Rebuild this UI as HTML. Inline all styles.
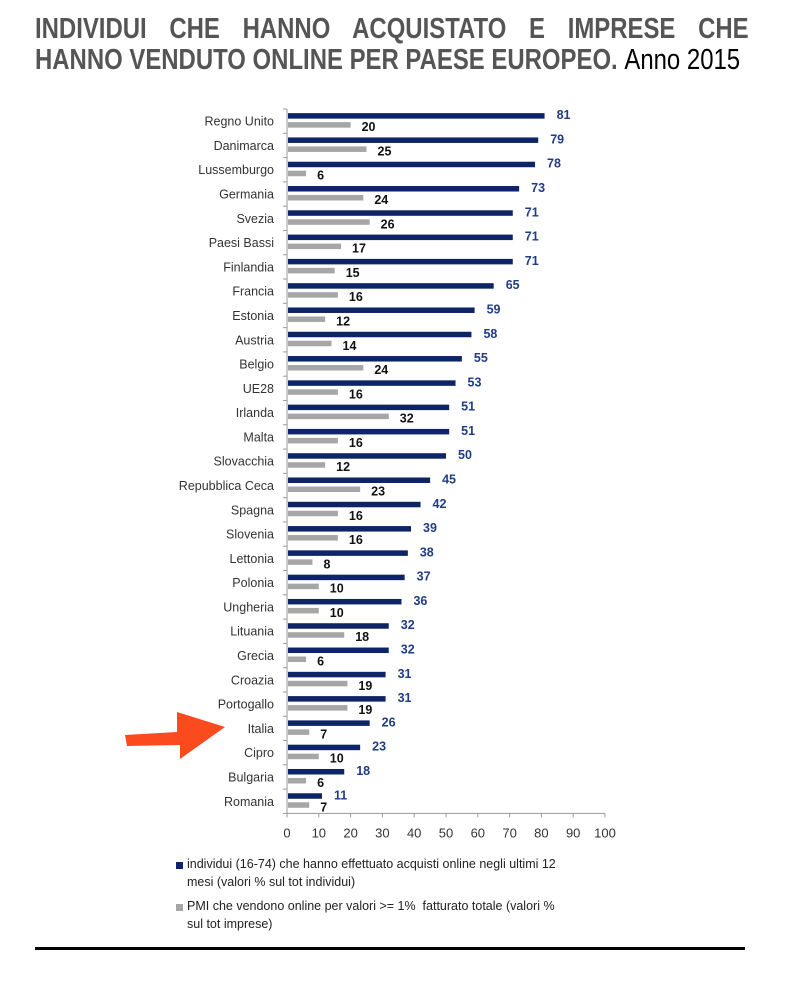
<!DOCTYPE html>
<html><head><meta charset="utf-8"><style>
body{margin:0;background:#fff;width:790px;height:988px;overflow:hidden;position:relative;font-family:"Liberation Sans",sans-serif}
.t{position:absolute;left:35px;width:865px;font-weight:bold;font-size:29px;color:#555;white-space:nowrap;line-height:30px;transform:scaleX(0.825);transform-origin:0 0}
#t1{top:14px;text-align:justify;text-align-last:justify}
#t2{top:45px}
#t2 span{font-weight:normal;color:#000}
.leg{position:absolute;left:187px;font-size:12.5px;color:#222;line-height:18px}
.sq{position:absolute;left:176px;width:7px;height:7px}
</style></head><body>
<div class="t" id="t1">INDIVIDUI CHE HANNO ACQUISTATO E IMPRESE CHE</div>
<div class="t" id="t2">HANNO VENDUTO ONLINE PER PAESE EUROPEO. <span>Anno 2015</span></div>
<svg id="chart" width="790" height="988" style="position:absolute;left:0;top:0"></svg>
<div class="sq" style="top:862px;background:#0d2567"></div>
<div class="leg" style="top:855px">individui (16-74) che hanno effettuato acquisti online negli ultimi 12<br>mesi (valori % sul tot individui)</div>
<div class="sq" style="top:904px;background:#a6a6a6"></div>
<div class="leg" style="top:897px">PMI che vendono online per valori &gt;= 1%&nbsp; fatturato totale (valori %<br>sul tot imprese)</div>
<div style="position:absolute;left:35px;top:947px;width:710px;height:3px;background:#000"></div>
<script>
const categories=["Regno Unito","Danimarca","Lussemburgo","Germania","Svezia","Paesi Bassi","Finlandia","Francia","Estonia","Austria","Belgio","UE28","Irlanda","Malta","Slovacchia","Repubblica Ceca","Spagna","Slovenia","Lettonia","Polonia","Ungheria","Lituania","Grecia","Croazia","Portogallo","Italia","Cipro","Bulgaria","Romania"];
const individui=[81,79,78,73,71,71,71,65,59,58,55,53,51,51,50,45,42,39,38,37,36,32,32,31,31,26,23,18,11];
const pmi=[20,25,6,24,26,17,15,16,12,14,24,16,32,16,12,23,16,16,8,10,10,18,6,19,19,7,10,6,7];
const ticks=[0,10,20,30,40,50,60,70,80,90,100];
const NS="http://www.w3.org/2000/svg";
const svg=document.getElementById('chart');
const x0=287,sc=3.18,y0=109,step=24.29;
const X=v=>x0+v*sc;
const Y=i=>y0+i*step;
function el(t,a,txt){const e=document.createElementNS(NS,t);for(const k in a)e.setAttribute(k,a[k]);if(txt!=null)e.textContent=txt;svg.appendChild(e);return e;}
let ax=el('line',{x1:x0,y1:y0,x2:x0,y2:Y(categories.length),stroke:'#999'});


let bx=el('line',{x1:x0,y1:Y(categories.length),x2:X(100),y2:Y(categories.length),stroke:'#999'});


for(let i=0;i<=categories.length;i++){el('line',{x1:x0-4,y1:Y(i),x2:x0,y2:Y(i),stroke:'#999'});}
ticks.forEach(t=>{
 el('line',{x1:X(t),y1:Y(categories.length),x2:X(t),y2:Y(categories.length)+4,stroke:'#999'});
 const tl=el('text',{x:X(t),y:Y(categories.length)+24,'font-size':13,fill:'#333','text-anchor':'middle'},t);
 
 
});
categories.forEach((c,i)=>{
 const yc=Y(i)+step/2;
 const lb=el('text',{x:274,y:yc+4.5,'font-size':12.5,fill:'#333','text-anchor':'end'},c);
 
 
 const b1=el('rect',{x:x0+1,y:yc-8,width:X(individui[i])-x0-1,height:5.5,fill:'#0d2567'});
 
 
 const b2=el('rect',{x:x0+1,y:yc+1,width:X(pmi[i])-x0-1,height:5.5,fill:'#a6a6a6'});
 
 
 const v1=el('text',{x:X(individui[i])+12,y:yc-2,'font-size':12.5,'font-weight':'bold',fill:'#1f3d86'},individui[i]);
 
 
 const v2=el('text',{x:X(pmi[i])+11,y:yc+10,'font-size':12.5,'font-weight':'bold',fill:'#111'},pmi[i]);
 
 
});
const ar=el('polygon',{points:'125,735 177,732 177,712 225,727 180,759 180,745 127,746',fill:'#fb4a1d'});


</script>
</body></html>
